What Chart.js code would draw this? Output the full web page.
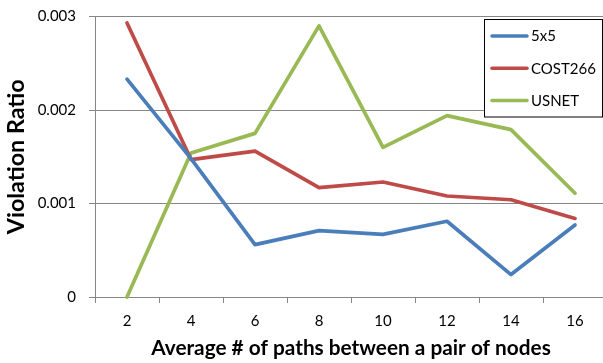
<!DOCTYPE html>
<html>
<head>
<meta charset="utf-8">
<script src="https://cdn.jsdelivr.net/npm/chart.js@4/dist/chart.umd.min.js"></script>
<style>
  html, body { margin: 0; padding: 0; background: #fff; overflow: hidden; }
  #wrap { width: 607px; height: 363px; }
</style>
</head>
<body>
<div id="wrap"><canvas id="c" width="607" height="363"></canvas></div>
<script>
// Average number of paths between a node pair
const categories = ['2', '4', '6', '8', '10', '12', '14', '16'];

// Violation ratio per topology
const series5x5    = [0.00233, 0.00148, 0.00056, 0.00071, 0.00067, 0.00081, 0.00024, 0.00077];
const seriesCost266 = [0.00293, 0.00147, 0.00156, 0.00117, 0.00123, 0.00108, 0.00104, 0.00084];
const seriesUsnet  = [0.00000, 0.00154, 0.00175, 0.00290, 0.00160, 0.00194, 0.00179, 0.00111];

const yTicks = [0, 0.001, 0.002, 0.003];

const FONT = 'Lato, "Open Sans", sans-serif';
const GRID = '#868686';

// Boxed legend in the upper right, one row per dataset
const boxLegend = {
  id: 'boxLegend',
  afterDraw(chart) {
    const ctx = chart.ctx;
    const x0 = 484.5, y0 = 19.5, w = 118, h = 97.5;
    ctx.save();
    ctx.fillStyle = '#fff';
    ctx.fillRect(x0, y0, w, h);
    ctx.strokeStyle = '#000';
    ctx.lineWidth = 1;
    ctx.strokeRect(x0, y0, w, h);
    ctx.font = '15px ' + FONT;
    ctx.textBaseline = 'middle';
    ctx.textAlign = 'left';
    chart.data.datasets.forEach((ds, i) => {
      const y = 36 + i * 32.2;
      ctx.strokeStyle = ds.borderColor;
      ctx.lineWidth = 3.5;
      ctx.lineCap = 'round';
      ctx.beginPath();
      ctx.moveTo(492, y);
      ctx.lineTo(527, y);
      ctx.stroke();
      ctx.fillStyle = '#000';
      ctx.fillText(ds.label, 531, y + 0.5);
    });
    ctx.restore();
  }
};

const mkSet = (label, data, color) => ({
  label, data,
  borderColor: color,
  backgroundColor: color,
  borderWidth: 3.7,
  pointRadius: 0,
  tension: 0,
  borderCapStyle: 'round',
  borderJoinStyle: 'round',
  clip: false
});

new Chart(document.getElementById('c'), {
  type: 'line',
  data: {
    labels: categories,
    datasets: [
      mkSet('5x5', series5x5, '#4A7EBB'),
      mkSet('COST266', seriesCost266, '#BE4B48'),
      mkSet('USNET', seriesUsnet, '#98B954')
    ]
  },
  options: {
    responsive: false,
    animation: false,
    layout: { padding: { top: 16.5, right: 0, left: 0, bottom: 0 } },
    plugins: { legend: { display: false }, tooltip: { enabled: false } },
    scales: {
      x: {
        offset: true,
        grid: {
          offset: true,
          drawOnChartArea: false,
          drawTicks: true,
          tickLength: 6,
          color: GRID
        },
        border: { display: true, color: GRID, width: 1 },
        ticks: {
          color: '#000',
          font: { family: FONT, size: 15 },
          padding: 9,
          maxRotation: 0
        },
        title: {
          display: true,
          text: 'Average # of paths between a pair of nodes',
          color: '#000',
          font: { family: FONT, size: 20.8, weight: 'bold' },
          padding: { top: 0, bottom: 2 }
        },
        afterFit(scale) {
          scale.height = 66;
          scale.paddingLeft = 0;
          scale.paddingRight = 0;
        }
      },
      y: {
        min: 0,
        max: 0.003,
        afterBuildTicks(scale) { scale.ticks = yTicks.map(v => ({ value: v })); },
        grid: {
          color: GRID,
          lineWidth: 1,
          drawTicks: true,
          tickLength: 6
        },
        border: { display: true, color: GRID, width: 1 },
        ticks: {
          color: '#000',
          font: { family: FONT, size: 15 },
          padding: 13,
          callback: v => (v === 0 ? '0' : v.toFixed(3))
        },
        title: {
          display: true,
          text: 'Violation Ratio',
          color: '#000',
          font: { family: FONT, size: 23.3, weight: 'bold' },
          padding: { top: 2, bottom: 0 }
        },
        afterFit(scale) {
          scale.width = 95;
          scale.paddingTop = 0;
          scale.paddingBottom = 0;
        }
      }
    }
  },
  plugins: [boxLegend]
});
</script>
</body>
</html>
